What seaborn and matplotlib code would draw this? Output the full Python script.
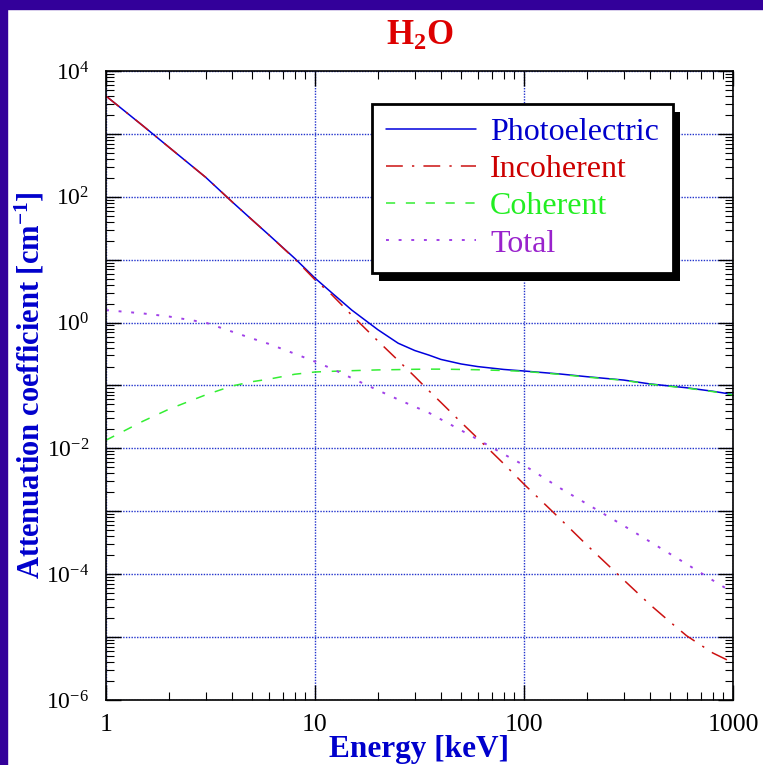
import numpy as np
import pandas as pd
import seaborn as sns
import matplotlib
matplotlib.use('Agg')
import matplotlib.pyplot as plt
from matplotlib.ticker import FixedLocator, FixedFormatter, FuncFormatter, NullFormatter
from matplotlib.patches import Rectangle
from matplotlib.transforms import IdentityTransform

# values (keV, 1/cm)
energy = [1, 1.5, 2, 3, 4, 5, 6, 8, 10, 12, 15, 20, 25, 30, 35, 40, 50, 60, 80,
          100, 150, 200, 300, 400, 500, 600, 800, 1000]
photoelectric = [4000, 1350, 615, 204, 84, 43, 25, 10.5, 5.1, 3.0, 1.58, 0.77, 0.47,
                 0.36, 0.305, 0.26, 0.22, 0.20, 0.18, 0.17, 0.152, 0.138, 0.122,
                 0.106, 0.098, 0.092, 0.081, 0.072]
incoherent = [4000, 1350, 615, 204, 84, 43, 25, 10.3, 4.8, 2.8, 1.31, 0.51, 0.25,
              0.139, 0.083, 0.054, 0.026, 0.0145, 0.0057, 0.0027, 7.4e-4, 2.9e-4,
              8.1e-5, 3.3e-5, 1.74e-5, 1.05e-5, 5.6e-6, 3.9e-6]
coherent = [0.0135, 0.027, 0.042, 0.071, 0.098, 0.115, 0.126, 0.151, 0.164, 0.168,
            0.172, 0.177, 0.179, 0.181, 0.182, 0.182, 0.180, 0.178, 0.173, 0.168,
            0.150, 0.136, 0.121, 0.105, 0.097, 0.091, 0.080, 0.071]
total = [1.58, 1.40, 1.25, 1.0, 0.72, 0.56, 0.46, 0.32, 0.24, 0.186, 0.131, 0.084,
         0.060, 0.046, 0.037, 0.029, 0.0194, 0.0139, 0.0081, 0.0054, 0.0023,
         0.00131, 5.9e-4, 3.3e-4, 2.1e-4, 1.45e-4, 8e-5, 5.1e-5]

names = ['Photoelectric', 'Incoherent', 'Coherent', 'Total']
line_colors = ['#0000dd', '#cc1111', '#33ee33', '#a040e8']
text_colors = ['#0000cc', '#cc0000', '#22ee22', '#9922cc']
styles = ['-', (0, (11, 6, 1.5, 6)), (0, (6, 7)), (0, (1.5, 5))]
widths = [1.1, 1.1, 1.1, 1.4]

x_ticks = [1, 10, 100, 1000]
x_tick_labels = ['1', '10', '100', '1000']
y_decades = list(range(-6, 5))

sns.set_style('ticks')
plt.rcParams['font.family'] = ['Liberation Serif', 'DejaVu Serif']
plt.rcParams.update({'mathtext.fontset': 'custom',
                     'mathtext.rm': 'Liberation Serif',
                     'mathtext.bf': 'Liberation Serif:bold',
                     'mathtext.it': 'Liberation Serif:italic'})

fig = plt.figure(figsize=(7.63, 7.65), dpi=100)
border = '#33009a'
fig.add_artist(Rectangle((0, 0), 7 / 763, 1, transform=fig.transFigure,
                         color=border, zorder=-1))
fig.add_artist(Rectangle((0, 1 - 9 / 765), 1, 9 / 765, transform=fig.transFigure,
                         color=border, zorder=-1))

ax = fig.add_axes([106 / 763, 1 - 700 / 765, 627 / 763, 629 / 765])
ax.set_xscale('log')
ax.set_yscale('log')

df = pd.DataFrame({'Energy': energy, 'Photoelectric': photoelectric,
                   'Incoherent': incoherent, 'Coherent': coherent, 'Total': total})
for name, col, ls, w in zip(names, line_colors, styles, widths):
    sns.lineplot(data=df, x='Energy', y=name, ax=ax, color=col, linestyle=ls,
                 lw=w, label=name)

ax.set_xlim(1, 1000)
ax.set_ylim(1e-6, 1e4)
ax.xaxis.set_major_locator(FixedLocator(x_ticks))
ax.xaxis.set_major_formatter(FixedFormatter(x_tick_labels))
ax.xaxis.set_minor_locator(FixedLocator([m * 10 ** d for d in range(3) for m in range(2, 10)]))
ax.xaxis.set_minor_formatter(NullFormatter())
ax.yaxis.set_major_locator(FixedLocator([10.0 ** d for d in y_decades]))
ax.yaxis.set_minor_locator(FixedLocator([m * 10.0 ** d for d in y_decades[:-1] for m in range(2, 10)]))
ax.yaxis.set_minor_formatter(NullFormatter())


def ylab(v, pos):
    e = int(round(np.log10(v)))
    return r'$10^{%d}$' % e if e % 2 == 0 else ''


ax.yaxis.set_major_formatter(FuncFormatter(ylab))

ax.grid(True, which='major', color='#2233cc', linestyle=(0, (1, 1)), linewidth=1.0)
ax.tick_params(which='both', direction='in', top=True, right=True, colors='black')
ax.tick_params(axis='x', labelsize=18.5, pad=10)
ax.tick_params(axis='y', labelsize=17, pad=12)
ax.tick_params(which='major', length=11, width=1)
ax.tick_params(which='minor', length=6, width=0.8)
for s in ax.spines.values():
    s.set_linewidth(1.2)
    s.set_color('black')

ax.set_xlabel('Energy [keV]', fontsize=22.5, fontweight='bold', color='#0000cc')
ax.xaxis.set_label_coords(0.5, -0.056)
ax.set_ylabel(r'Attenuation coefficient [cm$^{\mathbf{-1}}$]', fontsize=22,
              fontweight='bold', color='#0000cc')
ax.yaxis.set_label_coords(-0.095, 0.5)
ax.set_title(r'H$_{\mathbf{2}}$O', fontsize=25, fontweight='bold', color='#dd0000', pad=19)

leg = ax.legend(loc='upper left', bbox_to_anchor=(0.424, 0.948), fontsize=23,
                frameon=True, fancybox=False, edgecolor='black', framealpha=1,
                handlelength=2.8, handletextpad=0.45, borderpad=0.45,
                labelspacing=0.24, borderaxespad=0)
leg.get_frame().set_linewidth(2)
for t, c in zip(leg.get_texts(), text_colors):
    t.set_color(c)

fig.canvas.draw()
bb = leg.get_window_extent()
ax.add_artist(Rectangle((bb.x0 + 7, bb.y0 - 8), bb.width, bb.height,
                        transform=IdentityTransform(), facecolor='black',
                        edgecolor='none', zorder=4.5))

fig.savefig('out.png', dpi=100)
